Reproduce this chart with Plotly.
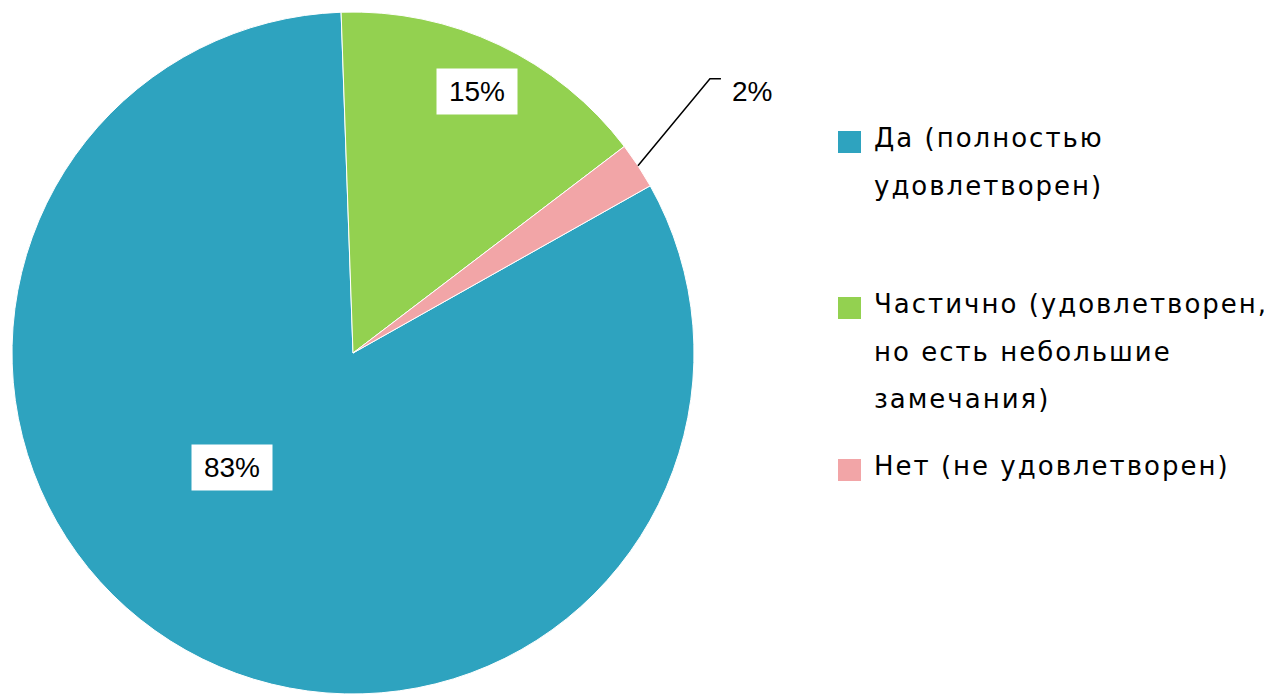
import math
import plotly.graph_objects as go

# ---- data ----
categories = [
    "Да (полностью удовлетворен)",
    "Частично (удовлетворен, но есть небольшие замечания)",
    "Нет (не удовлетворен)",
]
legend_lines = [
    ["Да (полностью", "удовлетворен)"],
    ["Частично (удовлетворен,", "но есть небольшие", "замечания)"],
    ["Нет (не удовлетворен)"],
]
values = [82.6, 15.2, 2.2]
colors = ["#2ea3bf", "#93d150", "#f2a5a7"]

# ---- layout constants (pixels in the 1272x694 window) ----
WIN_W, WIN_H = 1272, 694
OFF = 8                            # default page body margin
W, H = WIN_W - OFF, WIN_H - OFF
CX, CY, R = 353, 353, 341
SECOND_SLICE_START = -2.0          # degrees clockwise from 12 o'clock
LEGEND_Y = [138, 304, 466]         # first-line centres of legend items
LEGEND_LINE = 47.5
LEGEND_SQ_X, LEGEND_TX_X, SQ = 838, 872, 22

total = sum(values)
shares = [v / total for v in values]
rotation = (SECOND_SLICE_START - 360 * shares[0]) % 360


def px(x):
    return (x - OFF) / W


def py(y):
    return 1 - (y - OFF) / H


def pct(s):
    return f"{int(s * 100 + 0.5)}%"


fig = go.Figure(
    go.Pie(
        labels=categories,
        values=values,
        sort=False,
        direction="clockwise",
        rotation=rotation,
        marker=dict(colors=colors, line=dict(color="white", width=1)),
        textinfo="none",
        hoverinfo="label+percent",
        showlegend=False,
        domain=dict(x=[px(CX - R), px(CX + R)], y=[py(CY + R), py(CY - R)]),
    )
)

# slice mid-angles (clockwise from top)
mids = []
a = rotation
for s in shares:
    mids.append(a + 180 * s)
    a += 360 * s

annotations = []
shapes = []

# boxed labels inside slices
label_radius = [0.487, 0.848]
label_shift = [17.2, 0.0]
for i in range(2):
    ang = math.radians(mids[i] + label_shift[i])
    x = CX + label_radius[i] * R * math.sin(ang)
    y = CY - label_radius[i] * R * math.cos(ang)
    annotations.append(dict(
        x=px(x), y=py(y), xref="paper", yref="paper",
        text=pct(shares[i]), showarrow=False,
        font=dict(family="Liberation Sans, Arial", size=28, color="black"),
        bgcolor="white", width=80, height=45, borderpad=0,
        xanchor="center", yanchor="middle",
    ))

# outside label with leader line for small slice
ang = math.radians(mids[2])
x0 = CX + R * math.sin(ang)
y0 = CY - R * math.cos(ang)
x1, y1 = x0 + 72, y0 - 87
x2, y2 = x1 + 11, y1
shapes.append(dict(
    type="path", xref="paper", yref="paper",
    path=f"M {px(x0)},{py(y0)} L {px(x1)},{py(y1)} L {px(x2)},{py(y2)}",
    line=dict(color="black", width=1.5),
))
annotations.append(dict(
    x=px(x2 + 31), y=py(y2 + 13), xref="paper", yref="paper",
    text=pct(shares[2]), showarrow=False,
    font=dict(family="Liberation Sans, Arial", size=28, color="black"),
    xanchor="center", yanchor="middle",
))

# legend
for i, lines in enumerate(legend_lines):
    yc = LEGEND_Y[i]
    shapes.append(dict(
        type="rect", xref="paper", yref="paper",
        x0=px(LEGEND_SQ_X), x1=px(LEGEND_SQ_X + SQ + 1),
        y0=py(yc + 4 + SQ / 2), y1=py(yc + 4 - SQ / 2),
        fillcolor=colors[i], line=dict(width=0),
    ))
    for j, ln in enumerate(lines):
        annotations.append(dict(
            x=px(LEGEND_TX_X), y=py(yc + j * LEGEND_LINE), xref="paper", yref="paper",
            text=f'<span style="letter-spacing:2px">{ln}</span>',
            showarrow=False, xanchor="left", yanchor="middle",
            font=dict(family="DejaVu Sans", size=26, color="black"),
        ))

fig.update_layout(
    width=W, height=H,
    margin=dict(l=0, r=0, t=0, b=0),
    paper_bgcolor="white", plot_bgcolor="white",
    annotations=annotations, shapes=shapes,
    showlegend=False,
)

fig.write_html("out.html")
